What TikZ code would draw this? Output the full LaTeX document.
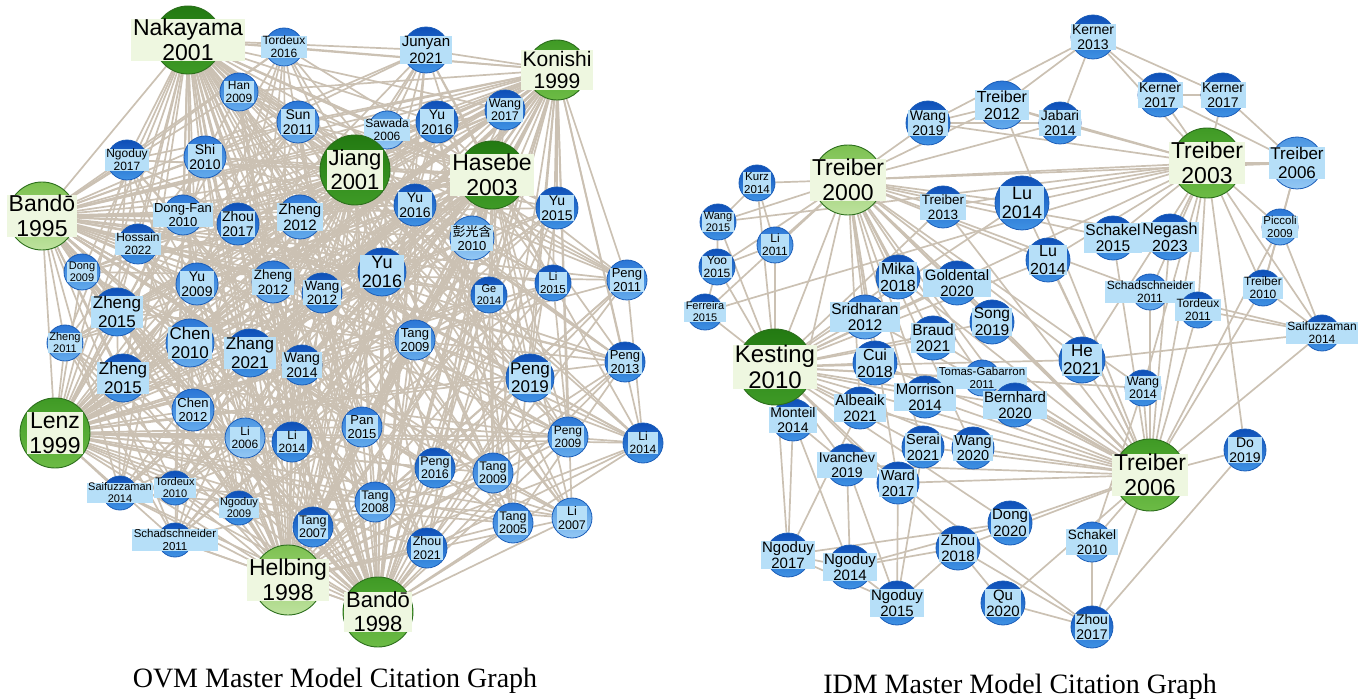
\documentclass[tikz,border=0pt]{standalone}
\usepackage{fontspec}
\setmainfont{Liberation Sans}
\newfontfamily\capfont{Liberation Serif}
\newfontfamily\cjk{Noto Sans CJK SC}
\usetikzlibrary{backgrounds}
\definecolor{edgec}{HTML}{CBC1B3}
\definecolor{btopa}{HTML}{0E4FB8}\definecolor{bbota}{HTML}{3F92E4}
\definecolor{btopb}{HTML}{2A76D6}\definecolor{bbotb}{HTML}{64ABEC}
\definecolor{btopc}{HTML}{4A95E2}\definecolor{bbotc}{HTML}{94C8F4}
\definecolor{bborder}{HTML}{1B5DB8}
\definecolor{blabel}{HTML}{B6DFF8}
\definecolor{gtopa}{HTML}{237A12}\definecolor{gbota}{HTML}{3E9A26}
\definecolor{gtopb}{HTML}{3F9A25}\definecolor{gbotb}{HTML}{6CBB45}
\definecolor{gtopc}{HTML}{7CC150}\definecolor{gbotc}{HTML}{BEE29E}
\definecolor{gborder}{HTML}{2C6E1C}
\definecolor{glabel}{HTML}{EEF7E0}
\tikzset{
  edge/.style={draw=edgec, line width=1.7pt},
  bcirc/.style={circle, draw=bborder, line width=0.8pt, inner sep=0pt},
  gcirc/.style={circle, draw=gborder, line width=0.9pt, inner sep=0pt},
  blab/.style={fill=blabel, inner xsep=1.5pt, inner ysep=0.5pt, align=center, text=black},
  glab/.style={fill=glabel, inner xsep=2pt, inner ysep=0.5pt, align=center, text=black},
  caption/.style={font=\capfont\fontsize{28}{31}\selectfont, text=black}
}
% blue node: name, x, y, r, fs, tone, line1, line2
\newcommand{\bnd}[8]{%
  \node[bcirc, top color=btop#6, bottom color=bbot#6, minimum size={2*#4*1pt}] (#1) at (#2,#3) {};
  \node[blab, font=\fontsize{#5}{#5}\selectfont] (#1t) at (#2,#3) {#7\\[0.08em]#8};}
\newcommand{\gnd}[8]{%
  \node[gcirc, top color=gtop#6, bottom color=gbot#6, minimum size={2*#4*1pt}] (#1) at (#2,#3) {};
  \node[glab, font=\fontsize{#5}{#5}\selectfont] (#1t) at (#2,#3) {#7\\[0.08em]#8};}
\begin{document}
\begin{tikzpicture}[x=1pt, y=-1pt]
\useasboundingbox (0,0) rectangle (1363,700);
% ---------------- left graph nodes
\foreach \i/\x/\y/\r/\f/\t/\a/\b in {
 1/284/47/19/12/b/Tordeux/2016, 2/426/50/23/15/a/Junyan/2021, 3/239/92/19/12/b/Han/2009,
 4/298/122/21/14/b/Sun/2011, 5/505/110/20/12.5/a/Wang/2017, 6/437/122/21/14/a/Yu/2016,
 7/387/130/19/12/c/Sawada/2006, 8/127/160/20/12/a/Ngoduy/2017, 9/205/157/21/14/b/Shi/2010,
 10/300/217/22/15/b/Zheng/2012, 11/183/215/20/13/b/Dong-Fan/2010, 12/238/224/21/14/a/Zhou/2017,
 13/415/205/21/14/a/Yu/2016, 14/557/208/21/14/a/Yu/2015, 15/138/244/20/12/a/Hossain/2022,
 17/82/272/18/11/b/Dong/2009, 18/197/284/21/14/b/Yu/2009,
 19/273/282/21/13.5/b/Zheng/2012, 20/322/293/20/13.5/a/Wang/2012, 21/382/272/24/18/a/Yu/2016,
 22/489/295/18/11/a/Ge/2014, 23/553/283/18/11.5/a/Li/2015, 24/627/280/20/13/b/Peng/2011,
 25/117/312/24/17/a/Zheng/2015, 26/65/343/18/11/b/Zheng/2011, 27/190/343/24/17/b/Chen/2010,
 28/250/353/24/17/a/Zhang/2021, 29/302/365/20/14/a/Wang/2014, 30/415/340/20/13/b/Tang/2009,
 31/530/378/24/17/a/Peng/2019, 32/625/362/20/13/a/Peng/2013, 33/123/378/24/17/a/Zheng/2015,
 34/193/410/21/13/b/Chen/2012, 35/245/438/20/12/c/Li/2006, 36/292/442/20/12/a/Li/2014,
 37/362/427/20/13/b/Pan/2015, 38/435/468/20/12.5/a/Peng/2016, 39/493/473/20/12.5/b/Tang/2009,
 40/568/437/20/12/b/Peng/2009, 41/643/443/20/12/a/Li/2014, 42/120/493/17/11/a/Saifuzzaman/2014,
 43/175/488/17/11/a/Tordeux/2010, 44/239/508/17/11/a/Ngoduy/2009, 45/375/502/20/12.5/b/Tang/2008,
 46/313/527/20/12.5/a/Tang/2007, 47/175/540/17/11.5/a/Schadschneider/2011, 48/427/548/20/12.5/a/Zhou/2021,
 49/513/523/20/12.5/b/Tang/2005, 50/572/518/20/12.5/c/Li/2007}
 {\bnd{L\i}{\x}{\y}{\r}{\f}{\t}{\a}{\b}}
\bnd{L16}{472}{238}{22}{13}{c}{{\cjk 彭光含}}{2010}
\gnd{nak}{188}{40}{34}{23}{a}{Nakayama}{2001}
\gnd{kon}{557}{70}{30}{21}{b}{Konishi}{1999}
\gnd{jia}{355}{170}{35}{22}{a}{Jiang}{2001}
\gnd{has}{492}{175}{34}{23}{a}{Hasebe}{2003}
\gnd{bafive}{42}{216}{34}{23}{c}{Bandō}{1995}
\gnd{lenz}{55}{433}{35}{23}{b}{Lenz}{1999}
\gnd{hel}{288}{580}{35}{23}{c}{Helbing}{1998}
\gnd{baeight}{378}{612}{35}{22}{b}{Bandō}{1998}
% ---------------- right graph nodes
\foreach \i/\x/\y/\r/\f/\t/\a/\b in {
 1/1093/37/22/14/a/Kerner/2013, 2/1002/105/24/16/b/Treiber/2012, 3/1060/123/21/14/a/Jabari/2014,
 4/1160/95/22/14/a/Kerner/2017, 5/1223/95/22/14/a/Kerner/2017, 6/928/123/22/14/a/Wang/2019,
 7/1297/163/26/17/c/Treiber/2006, 8/757/183/18/11.5/a/Kurz/2014, 9/943/207/21/13.5/a/Treiber/2013,
 10/1022/203/27/18/a/Lu/2014, 11/718/222/18/11/a/Wang/2015, 12/775/245/18/12/b/Li/2011,
 13/717/267/18/12/a/Yoo/2015, 14/705/312/18/11/a/Ferreira/2015, 15/1113/238/22/15.5/a/Schakel/2015,
 16/1170/237/23/16/a/Negash/2023, 17/1280/227/18/11.5/b/Piccoli/2009, 18/1048/260/22/16/a/Lu/2014,
 19/898/277/22/16/a/Mika/2018, 20/957/283/22/15/a/Goldental/2020, 21/1150/292/18/12/b/Schadschneider/2011,
 22/1198/310/18/12/a/Tordeux/2011, 23/1263/288/18/12/a/Treiber/2010, 24/865/317/22/15.5/b/Sridharan/2012,
 25/992/322/22/15.5/a/Song/2019, 26/933/338/22/15.5/a/Braud/2021, 27/1322/333/18/12/a/Saifuzzaman/2014,
 28/1082/360/23/17/a/He/2021, 29/875/363/22/16/a/Cui/2018, 30/982/378/18/11.5/b/Tomas-Gabarron/2011,
 31/1143/388/18/12.5/a/Wang/2014, 32/925/397/21/15/a/Morrison/2014, 33/860/408/21/15/a/Albeaik/2021,
 34/1015/405/22/15/a/Bernhard/2020, 35/793/420/21/14/a/Monteil/2014, 36/923/447/21/14.5/a/Serai/2021,
 37/973/448/21/14.5/a/Wang/2020, 38/1245/450/21/14/a/Do/2019, 39/847/465/21/14/a/Ivanchev/2019,
 40/898/483/21/14.5/a/Ward/2017, 41/1010/523/22/15/a/Dong/2020, 42/958/548/22/15/a/Zhou/2018,
 43/1092/542/20/13.5/b/Schakel/2010, 44/788/555/22/15/a/Ngoduy/2017, 45/850/567/22/15/a/Ngoduy/2014,
 46/897/603/22/15/a/Ngoduy/2015, 47/1003/603/22/15/a/Qu/2020, 48/1092/627/21/14/a/Zhou/2017}
 {\bnd{R\i}{\x}{\y}{\r}{\f}{\t}{\a}{\b}}
\gnd{ta}{848}{180}{35}{23}{c}{Treiber}{2000}
\gnd{td}{1207}{163}{35}{23}{b}{Treiber}{2003}
\gnd{kb}{775}{367}{38}{24}{a}{Kesting}{2010}
\gnd{tc}{1150}{475}{36}{23}{b}{Treiber}{2006}
% ---------------- edges
\begin{scope}[on background layer]
\foreach \g in {nak,kon,jia,has,bafive,lenz,hel,baeight}
  {\foreach \i in {1,...,50} {\draw[edge] (\g) -- (L\i);}}
\foreach \a/\b in {nak/kon,nak/jia,nak/has,nak/bafive,nak/lenz,nak/hel,nak/baeight,
  kon/jia,kon/has,kon/bafive,kon/lenz,kon/hel,kon/baeight,jia/has,jia/bafive,jia/lenz,
  jia/hel,jia/baeight,has/bafive,has/lenz,has/hel,has/baeight,bafive/lenz,bafive/hel,
  bafive/baeight,lenz/hel,lenz/baeight,hel/baeight}
  {\draw[edge] (\a) -- (\b);}
\foreach \i in {1,...,50} {\foreach \k in {7,17,29}
  {\pgfmathtruncatemacro\j{mod(\i+\k-1,50)+1}\draw[edge] (L\i) -- (L\j);}}
% right
\foreach \i in {2,3,6,7,8,9,10,11,12,13,14,15,16,18,19,20,21,24,25,26,28,29,30,31,32,33,34,35,36,37,40}
  {\draw[edge] (ta) -- (R\i);}
\foreach \i in {8,9,10,11,12,13,14,18,19,20,24,25,26,28,29,30,31,32,33,34,35,36,37,39,40,41,42,44}
  {\draw[edge] (kb) -- (R\i);}
\foreach \i in {2,9,10,15,16,17,18,19,20,21,22,23,24,25,26,27,28,29,30,31,32,33,34,36,37,38,39,40,41,42,43,47,48}
  {\draw[edge] (tc) -- (R\i);}
\foreach \i in {1,2,3,4,5,6,7,9,10,11,14,15,16,17,18,21,22,23,27,28,31,38}
  {\draw[edge] (td) -- (R\i);}
\foreach \a/\b in {ta/kb,ta/tc,ta/td,kb/tc,kb/td,tc/td}
  {\draw[edge] (\a) -- (\b);}
\foreach \a/\b in {1/2,1/3,1/4,1/5,1/6,4/5,4/7,5/7,2/6,3/6,2/3,44/45,44/46,45/46,35/44,
  39/45,40/46,42/46,42/47,41/44,47/48,43/48,38/48,42/48,17/27,23/27,7/17,7/23,13/14,
  11/8,12/8,31/43,27/28,41/45,39/46,35/45,33/44,40/48,36/46,17/23,21/27,22/27,11/13,
  12/13,35/39,45/42}
  {\draw[edge] (R\a) -- (R\b);}
\end{scope}
% ---------------- captions
\node[caption] (capL) at (335,681) {OVM Master Model Citation Graph};
\node[caption] (capR) at (1020,687) {IDM Master Model Citation Graph};
\end{tikzpicture}
\end{document}
